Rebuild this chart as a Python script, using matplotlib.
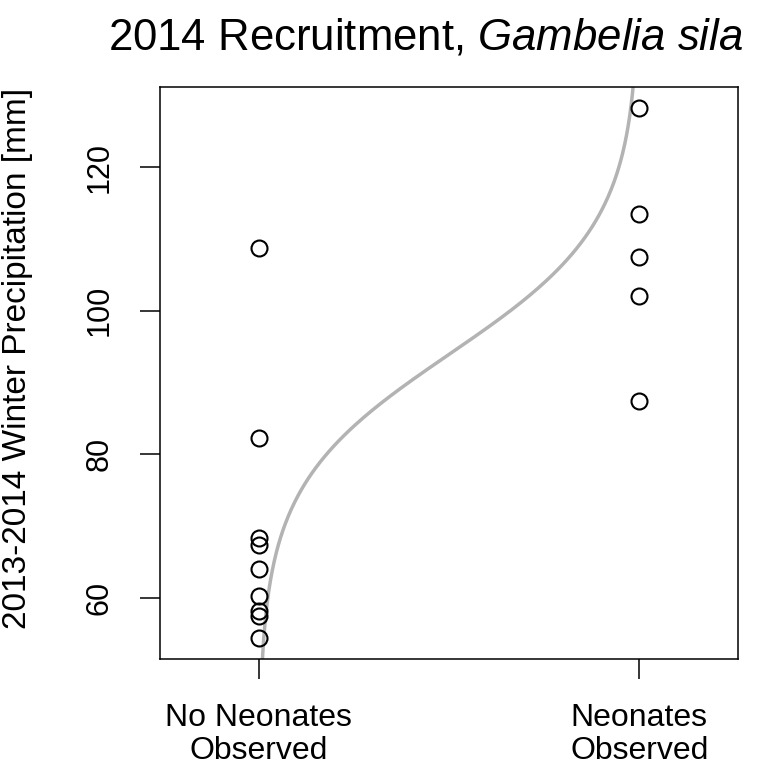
import numpy as np
import matplotlib
matplotlib.use('Agg')
import matplotlib.pyplot as plt

plt.rcParams['font.family'] = 'Liberation Sans'
plt.rcParams['mathtext.fontset'] = 'custom'
plt.rcParams['mathtext.rm'] = 'Liberation Sans'
plt.rcParams['mathtext.it'] = 'Liberation Sans:italic'

# observations: 0 = no neonates, 1 = neonates
no_neonates_precip = [108.7, 82.3, 68.4, 67.4, 64.0, 60.3, 58.2, 57.4, 54.4]
neonates_precip = [128.2, 113.5, 107.5, 102.1, 87.4]
tick_labels = ['No Neonates\nObserved', 'Neonates\nObserved']
y_ticks = [60, 80, 100, 120]

# logistic regression of recruitment on precipitation (IRLS)
precip = np.array(no_neonates_precip + neonates_precip)
obs = np.array([0] * len(no_neonates_precip) + [1] * len(neonates_precip))
X = np.column_stack([np.ones_like(precip), precip])
beta = np.zeros(2)
for _ in range(50):
    p = 1 / (1 + np.exp(-X @ beta))
    W = p * (1 - p)
    beta = beta + np.linalg.solve(X.T @ (X * W[:, None]), X.T @ (obs - p))

fig = plt.figure(figsize=(7.73, 7.71), dpi=100)
ax = fig.add_axes([0.207, 0.145, 0.748, 0.742])

yy = np.linspace(40, 140, 400)
pp = 1 / (1 + np.exp(-(beta[0] + beta[1] * yy)))
ax.plot(pp, yy, color='#b3b3b3', lw=2.5, zorder=1)

ax.plot(np.zeros(len(no_neonates_precip)), no_neonates_precip, 'o', mfc='none',
        mec='black', ms=11.5, mew=1.5, zorder=2)
ax.plot(np.ones(len(neonates_precip)), neonates_precip, 'o', mfc='none',
        mec='black', ms=11.5, mew=1.5, zorder=2)

ax.set_xlim(-0.26, 1.26)
ax.set_ylim(51.45, 131.15)
ax.set_xticks([0, 1])
ax.set_yticks(y_ticks)
ax.tick_params(direction='out', length=14.5, width=1.1)
ax.tick_params(axis='x', labelsize=23, pad=17)
ax.tick_params(axis='y', labelsize=22, pad=18)
ax.set_xticklabels(tick_labels, fontsize=23, linespacing=1.12)
ax.set_yticklabels([str(v) for v in y_ticks], fontsize=22, rotation=90, va='center')
ax.spines[:].set_linewidth(1.1)

fig.text(18 / 773, 1 - 358 / 771, '2013-2014 Winter Precipitation [mm]', fontsize=24,
         rotation=90, ha='center', va='center')

fig.text(0.551, 0.951, r'2014 Recruitment, $\it{Gambelia\ sila}$', fontsize=31.5,
         ha='center', va='center')

fig.savefig('out.png', dpi=100)
